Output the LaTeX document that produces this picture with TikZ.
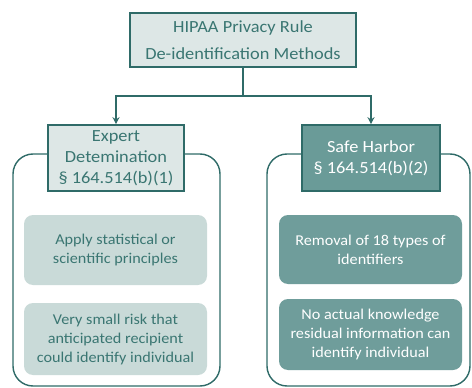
\documentclass[tikz,border=0pt]{standalone}
\usepackage{fontspec}
\setmainfont{Carlito}[FakeStretch=1.08]
\usetikzlibrary{arrows.meta}
\definecolor{tdark}{HTML}{2F6B68}
\definecolor{ttext}{HTML}{3A7672}
\definecolor{tlight}{HTML}{DDE7E6}
\definecolor{tlightin}{HTML}{C9DAD8}
\definecolor{tmid}{HTML}{6A9B98}
\definecolor{tmidin}{HTML}{6F9D9B}
\tikzset{
  hdr/.style={draw=tdark, line width=1.6pt, align=center, inner sep=0pt, font=\fontsize{17}{21}\selectfont},
  cont/.style={draw=tdark, line width=1.4pt, rounded corners=20pt},
  inner/.style={rounded corners=9pt, align=center, inner sep=0pt, font=\fontsize{15}{19}\selectfont},
  conn/.style={draw=tdark, line width=1.6pt},
  arr/.style={conn, -{Stealth[length=7pt,width=7pt]}}
}
\begin{document}
\begin{tikzpicture}[x=1pt,y=-1pt]
\useasboundingbox (0,0) rectangle (472,388);
% containers
\draw[cont, fill=white] (13,154) rectangle (220,386);
\draw[cont, fill=white] (267,154) rectangle (470,386);
% top
\node[hdr, fill=tlight, text=ttext, minimum width=226pt, minimum height=54pt, font=\fontsize{17}{27}\selectfont] (top) at (243,40) {HIPAA Privacy Rule\\De-identification Methods};
% headers
\node[hdr, fill=tlight, text=ttext, minimum width=136pt, minimum height=66pt] (ed) at (116,158) {Expert\\Detemination\\§ 164.514(b)(1)};
\node[hdr, fill=tmid, text=white, minimum width=138pt, minimum height=66pt] (sh) at (371,158) {Safe Harbor\\§ 164.514(b)(2)};
% inner boxes
\node[inner, fill=tlightin, text=ttext, minimum width=183pt, minimum height=70pt] (l1) at (115.5,250) {Apply statistical or\\scientific principles};
\node[inner, fill=tlightin, text=ttext, minimum width=183pt, minimum height=72pt] (l2) at (115.5,339) {Very small risk that\\anticipated recipient\\could identify individual};
\node[inner, fill=tmidin, text=white, minimum width=183pt, minimum height=69pt] (r1) at (370.5,249.5) {Removal of 18 types of\\identifiers};
\node[inner, fill=tmidin, text=white, minimum width=183pt, minimum height=71pt] (r2) at (370.5,334.5) {No actual knowledge\\residual information can\\identify individual};
% connectors
\coordinate (mid) at (243,96);
\draw[conn] (top.south) -- (mid);
\draw[arr] (mid) -| (ed.north);
\draw[arr] (mid) -| (sh.north);
\end{tikzpicture}
\end{document}
